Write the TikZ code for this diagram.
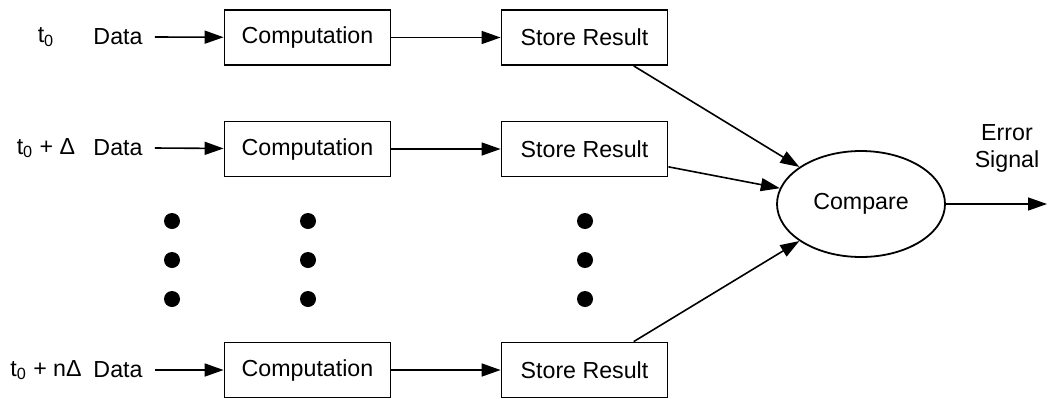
\documentclass[tikz,border=0pt]{standalone}
\usepackage{fontspec}
\setmainfont{Liberation Sans}
\usetikzlibrary{arrows.meta, shapes.geometric}
\begin{document}
\begin{tikzpicture}[
    x=0.5pt, y=-0.5pt,
    font=\fontsize{11.6}{13.5}\selectfont,
    proc/.style={draw, line width=0.9pt, minimum width=83pt, minimum height=27.5pt, inner sep=0pt},
    cmpnode/.style={draw, line width=0.9pt, ellipse, minimum width=84pt, minimum height=53pt, inner sep=0pt},
    flow/.style={-{Triangle[length=9.5pt, width=6.5pt]}, line width=0.8pt},
    lbl/.style={inner sep=0pt, anchor=center},
  ]
    \useasboundingbox (0,0) rectangle (1048,398);

    % inputs
    \node[lbl] (t1) at (46,37) {t\textsubscript{0}};
    \node[lbl] (t2) at (46,148) {t\textsubscript{0} + Δ};
    \node[lbl] (t3) at (46,370) {t\textsubscript{0} + nΔ};
    \node[lbl] (d1) at (118,37) {Data};
    \node[lbl] (d2) at (118,148) {Data};
    \node[lbl] (d3) at (118,370) {Data};

    % computation / storage
    \node[proc] (comp1) at (307.5,37.5) {Computation};
    \node[proc] (comp2) at (307.5,149) {Computation};
    \node[proc] (comp3) at (307.5,370) {Computation};
    \node[proc] (store1) at (584.5,37.5) {Store Result};
    \node[proc] (store2) at (584.5,149) {Store Result};
    \node[proc] (store3) at (584.5,370) {Store Result};

    \node[cmpnode] (cmp) at (861,204) {Compare};
    \node[lbl, align=center] (err) at (1007,148) {Error\\Signal};
    \coordinate (out) at (1047,204);

    \draw[flow] ([xshift=6pt]d1.east) -- (comp1);
    \draw[flow] ([xshift=6pt]d2.east) -- (comp2);
    \draw[flow] ([xshift=6pt]d3.east) -- (comp3);
    \draw[flow] (comp1) -- (store1);
    \draw[flow] (comp2) -- (store2);
    \draw[flow] (comp3) -- (store3);
    \draw[flow] (store1.-30) -- (cmp.149);
    \draw[flow] (store2.-12) -- (cmp.169);
    \draw[flow] (store3.30) -- (cmp.211);
    \draw[flow] (cmp) -- (out);

    % ellipsis dots
    \fill (172,221) circle (4pt) (172,260) circle (4pt) (172,299) circle (4pt)
          (308,221) circle (4pt) (308,260) circle (4pt) (308,299) circle (4pt)
          (585,221) circle (4pt) (585,260) circle (4pt) (585,299) circle (4pt);
\end{tikzpicture}
\end{document}
